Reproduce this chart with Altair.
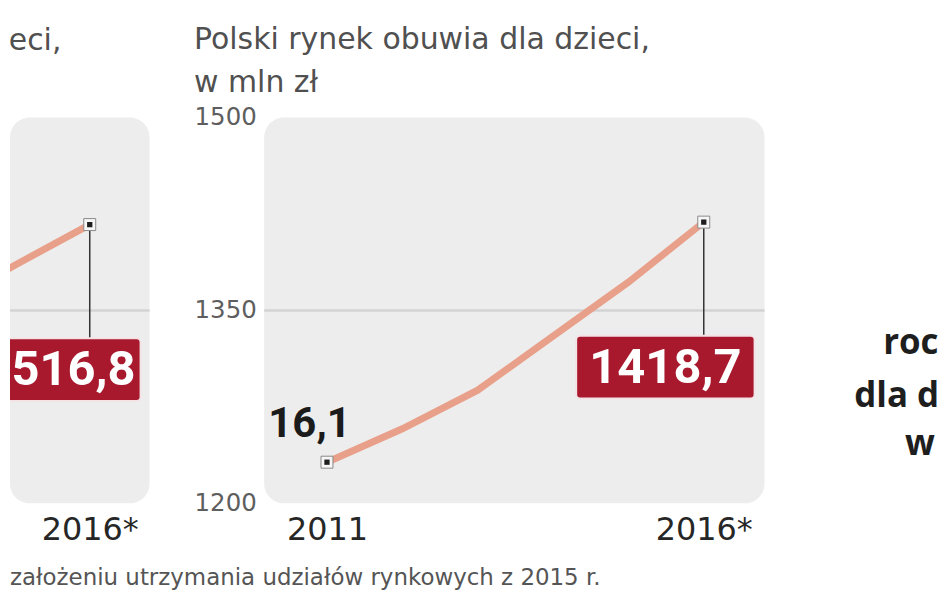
import altair as alt
import pandas as pd

# ---------------- data ----------------
years = [2011, 2012, 2013, 2014, 2015, 2016]
market_values = [1232, 1258, 1288, 1330, 1372, 1418.7]
main_start_label = "16,1"
main_end_label = "1418,7"
main_title = ["Polski rynek obuwia dla dzieci,", "w mln zł"]
y_ticks = [1200, 1350, 1500]
x_ticks = [2011, 2016]

left_years = [2014, 2015, 2016]
left_values = [1452, 1485, 1516.8]
left_end_label = "516,8"
left_title = ["eci,", "\u00a0"]
left_grid = [1450]

side_lines = ["roc", "dla d", "w"]
footnote = "założeniu utrzymania udziałów rynkowych z 2015 r."

# ---------------- style ----------------
PANEL = "#ededed"
GRID = "#d3d3d3"
LINE = "#e8a08a"
BOX = "#a8192e"
H = 387
PX_PER_YEAR = 75.6
LBL_FONT = "DejaVu Sans"


def x_enc(domain, values):
    axis = alt.Axis(
        values=values,
        labelExpr="datum.value == 2016 ? '\u00a02016*' : '' + datum.value",
        title=None, domain=False, ticks=False, tickSize=0, grid=False,
        labelFont=LBL_FONT, labelFontSize=32, labelColor="#262626",
        labelPadding=11, labelFlush=False,
    )
    return alt.X("year:Q", scale=alt.Scale(domain=domain, nice=False, zero=False), axis=axis)


def y_enc(domain, show_labels):
    if show_labels:
        axis = alt.Axis(values=y_ticks, format="d", title=None, domain=False, ticks=False,
                        tickSize=0, grid=False, labelFont=LBL_FONT, labelFontSize=24.5,
                        labelColor="#5e5e5e", labelPadding=8, labelFlush=False,
                        labelBaseline="middle")
    else:
        axis = None
    return alt.Y("value:Q", scale=alt.Scale(domain=domain, nice=False, zero=False), axis=axis)


def panel(df_line, end_label, start_label, x_domain, y_domain, grid_vals, show_y, title,
          title_offset, clip, label_dx, label_align, extra=None):
    xe = x_enc(x_domain, [v for v in x_ticks if x_domain[0] <= v <= x_domain[1]])
    ye = y_enc(y_domain, show_y)
    grid = alt.Chart(pd.DataFrame({"value": grid_vals})).mark_rule(
        color=GRID, strokeWidth=2.5).encode(y=ye)
    line = alt.Chart(df_line).mark_line(color=LINE, strokeWidth=7, clip=clip).encode(x=xe, y=ye)
    end_df = pd.DataFrame({"year": [df_line["year"].iloc[-1]], "value": [df_line["value"].iloc[-1]],
                           "label": [end_label]})
    stem = alt.Chart(end_df).mark_rule(color="#333333", strokeWidth=1.5, y2Offset=114, clip=clip).encode(
        x=xe, y=ye, y2="value:Q")
    box = alt.Chart(end_df).mark_rect(
        fill=BOX, stroke="#f3e3e5", strokeWidth=2, cornerRadius=4, clip=clip,
        xOffset=-128, x2Offset=51, yOffset=114, y2Offset=177).encode(
        x=xe, x2="year:Q", y=ye, y2="value:Q")
    box_txt = alt.Chart(end_df).mark_text(
        font="Roboto", fontWeight="bold", fontSize=49, color="white", align=label_align,
        baseline="middle", dx=label_dx, dy=146).encode(x=xe, y=ye, text="label:N")
    pts = [df_line.iloc[[-1]]]
    layers = [grid, line, stem, box, box_txt]
    if start_label:
        start_df = pd.DataFrame({"year": [df_line["year"].iloc[0]], "value": [df_line["value"].iloc[0]],
                                 "label": [start_label]})
        layers.append(alt.Chart(start_df).mark_text(
            font="Roboto", fontWeight="bold", fontSize=42, color="#1b1b1b", align="center",
            baseline="middle", dx=-17.5, dy=-38).encode(x=xe, y=ye, text="label:N"))
        pts.append(df_line.iloc[[0]])
    pts_df = pd.concat(pts)
    layers.append(alt.Chart(pts_df).mark_square(size=144, fill="#f6f6f6", stroke="#8a8a8a",
                                                strokeWidth=1, opacity=1, clip=clip).encode(x=xe, y=ye))
    layers.append(alt.Chart(pts_df).mark_square(size=28, fill="#1e1e1e", opacity=1,
                                                clip=clip).encode(x=xe, y=ye))
    if extra is not None:
        layers.append(extra)
    width = round((x_domain[1] - x_domain[0]) * PX_PER_YEAR)
    return alt.layer(*layers).properties(
        width=width, height=H,
        view=alt.ViewBackground(fill=PANEL, cornerRadius=20, strokeWidth=0),
        title=alt.TitleParams(text=title, anchor="start", font=LBL_FONT, fontSize=30,
                              fontWeight="normal", color="#505050", lineHeight=43,
                              offset=title_offset),
    )


main_df = pd.DataFrame({"year": years, "value": market_values})
left_df = pd.DataFrame({"year": left_years, "value": left_values})

note = alt.Chart(pd.DataFrame({"t": [footnote]})).mark_text(
    align="left", baseline="middle", font=LBL_FONT, fontSize=23, color="#555555").encode(
    text="t:N", x=alt.value(0), y=alt.value(462))

left = panel(left_df, left_end_label, None, [2016 - 80 / PX_PER_YEAR, 2016 + 60 / PX_PER_YEAR],
             [1300, 1600], left_grid, False, left_title, 19, True, 46, "right", extra=note)
main = panel(main_df, main_end_label, main_start_label,
             [2011 - 63 / PX_PER_YEAR, 2016 + 61 / PX_PER_YEAR],
             [y_ticks[0], y_ticks[-1]], [y_ticks[1]], True, main_title, 7, False, -38.5, "center")

side_df = pd.DataFrame({"t": side_lines})
side_pos = [(24, 237), (-5, 290), (46, 339)]
side_layers = []
for i, (px, py) in enumerate(side_pos):
    side_layers.append(
        alt.Chart(side_df).transform_filter(f"datum.t == '{side_lines[i]}'").mark_text(
            align="left", baseline="alphabetic", font="Open Sans", fontWeight="bold",
            fontSize=35, color="#1e1e1e").encode(
            text="t:N", x=alt.value(px), y=alt.value(py)))
right = alt.layer(*side_layers).properties(
    width=80, height=H, view=alt.ViewBackground(strokeWidth=0))

chart = alt.hconcat(
    left,
    alt.hconcat(main, right, spacing=95, bounds="flush"),
    spacing=115, bounds="flush",
).properties(
    padding={"left": 0, "top": 16, "right": 0, "bottom": 0},
    background="white",
)

chart.save("out.html", embed_options={"renderer": "svg", "actions": False})
